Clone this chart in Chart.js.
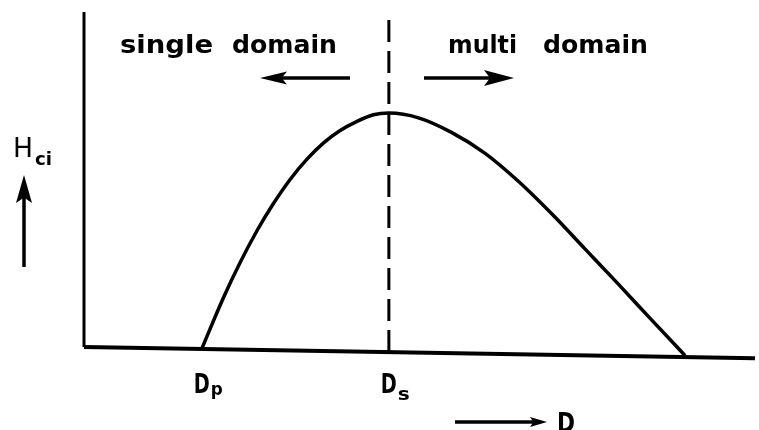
<!DOCTYPE html>
<html>
<head>
<meta charset="utf-8">
<script src="https://cdn.jsdelivr.net/npm/chart.js@4.4.0/dist/chart.umd.min.js"></script>
<style>
  body { margin: 0; background: #fff; }
</style>
</head>
<body>
<canvas id="hciChart" width="759" height="430"></canvas>
<script>
// Coercivity Hci versus particle size D (schematic, arbitrary units)
const curveD = [17.5, 20.7, 23.2, 25.7, 28.1, 30.6, 33.1, 35.6, 38.0, 40.5, 43.0, 45.3, 49.7, 54.6, 59.6, 64.5, 69.5, 74.4, 79.4, 84.3, 89.3];
const curveH = [0.4, 15.4, 25.9, 35.3, 43.2, 50.4, 56.4, 61.3, 64.9, 67.6, 69.6, 70.1, 68.7, 64.4, 58.2, 50.0, 40.3, 30.0, 19.5, 9.0, -1.6];

// axis lines (the baseline of the scan is slightly tilted)
const baseD = [0, 99.7];
const baseH = [0.9, -2.4];
const axisD = [0, 0];
const axisH = [0.9, 100];

// critical sizes: Dp (superparamagnetic limit) and Ds (single domain limit)
const criticalD = [17.5, 45.3];
const criticalLabels = ['D', 'D'];
const criticalSubs = ['p', 's'];
const dashH = [-0.6, 98];

function points(xs, ys) {
    return xs.map((x, i) => ({ x: x, y: ys[i] }));
}

// draw text squeezed/stretched to a given width
function fitText(ctx, text, x, y, w, font) {
    ctx.font = font;
    const m = ctx.measureText(text).width;
    ctx.save();
    ctx.translate(x, y);
    ctx.scale(w / m, 1);
    ctx.textAlign = 'left';
    ctx.textBaseline = 'alphabetic';
    ctx.fillText(text, 0, 0);
    ctx.restore();
}

function arrow(ctx, x1, y1, x2, y2, headLen, headHalf) {
    const ang = Math.atan2(y2 - y1, x2 - x1);
    const cos = Math.cos(ang), sin = Math.sin(ang);
    ctx.beginPath();
    ctx.moveTo(x1, y1);
    ctx.lineTo(x2 - cos * headLen * 0.6, y2 - sin * headLen * 0.6);
    ctx.stroke();
    ctx.beginPath();
    ctx.moveTo(x2, y2);
    ctx.lineTo(x2 - cos * headLen - sin * headHalf, y2 - sin * headLen + cos * headHalf);
    ctx.lineTo(x2 - cos * headLen * 0.8, y2 - sin * headLen * 0.8);
    ctx.lineTo(x2 - cos * headLen + sin * headHalf, y2 - sin * headLen - cos * headHalf);
    ctx.closePath();
    ctx.fill();
}

const labelPlugin = {
    id: 'labels',
    afterDatasetsDraw(chart) {
        const ctx = chart.ctx;
        const xScale = chart.scales.x;
        const face = '"DejaVu Sans"';
        ctx.save();
        ctx.fillStyle = '#000';
        ctx.strokeStyle = '#000';
        ctx.lineWidth = 3.5;
        ctx.lineCap = 'butt';

        // region titles and arrows
        fitText(ctx, 'single', 120, 53, 93, 'bold 24px ' + face);
        fitText(ctx, 'domain', 232, 53, 105, 'bold 24px ' + face);
        fitText(ctx, 'multi', 448, 53, 69, 'bold 24px ' + face);
        fitText(ctx, 'domain', 543, 53, 105, 'bold 24px ' + face);
        arrow(ctx, 350, 78, 260, 78, 27, 6.5);
        arrow(ctx, 424, 78, 514, 78, 30, 8);

        // y label
        fitText(ctx, 'H', 13, 157, 20, '26px ' + face);
        fitText(ctx, 'ci', 35, 165, 17, 'bold 17px ' + face);
        arrow(ctx, 24, 267, 24, 175, 28, 8);

        // critical size labels under the baseline
        criticalD.forEach((d, i) => {
            const px = xScale.getPixelForValue(d) - 8;
            fitText(ctx, criticalLabels[i], px, 393, 16, 'bold 27px ' + face);
            fitText(ctx, criticalSubs[i], px + 17, i === 0 ? 395 : 400, 12, 'bold 17px ' + face);
        });

        // x label
        arrow(ctx, 455, 422, 547, 422, 17, 5);
        fitText(ctx, 'D', 557, 432, 18, 'bold 27px ' + face);
        ctx.restore();
    }
};

const lineStyle = {
    pointRadius: 0,
    borderColor: '#000',
    borderWidth: 3.5,
    fill: false,
    clip: false,
    tension: 0
};

const ctx = document.getElementById('hciChart').getContext('2d');
new Chart(ctx, {
    type: 'line',
    data: {
        datasets: [
            Object.assign({}, lineStyle, { data: points(axisD, axisH), borderWidth: 3 }),
            Object.assign({}, lineStyle, { data: points(baseD, baseH), borderWidth: 4 }),
            Object.assign({}, lineStyle, { data: points([criticalD[1], criticalD[1]], dashH), borderDash: [22, 9], borderWidth: 3 }),
            Object.assign({}, lineStyle, { data: points(curveD, curveH), cubicInterpolationMode: 'monotone', tension: 0.4 })
        ]
    },
    options: {
        responsive: false,
        animation: false,
        layout: { padding: { left: 84, right: 2, top: 12, bottom: 63 } },
        scales: {
            x: { type: 'linear', min: 0, max: 100, display: false },
            y: { type: 'linear', min: -5, max: 100, display: false }
        },
        plugins: {
            legend: { display: false },
            tooltip: { enabled: false }
        }
    },
    plugins: [labelPlugin]
});
</script>
</body>
</html>
